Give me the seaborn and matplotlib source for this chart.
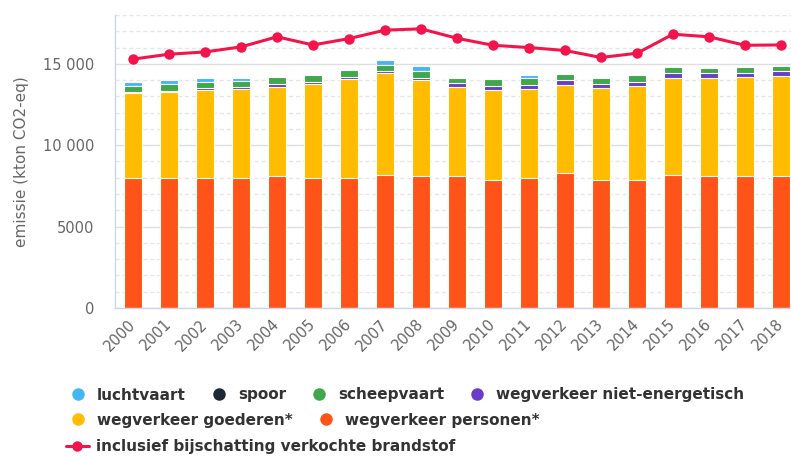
import numpy as np
import seaborn as sns
import matplotlib.pyplot as plt
from matplotlib.lines import Line2D
from matplotlib.ticker import FuncFormatter, MultipleLocator

years = [str(y) for y in range(2000, 2019)]

# kton CO2-eq per category
personen = [8000, 8000, 8000, 8000, 8080, 8000, 8000, 8160, 8080, 8080,
            7870, 8000, 8265, 7870, 7870, 8160, 8080, 8080, 8080]
goederen = [5200, 5300, 5380, 5480, 5520, 5750, 6070, 6260, 5930, 5480,
            5510, 5460, 5435, 5630, 5770, 6000, 6080, 6100, 6200]
niet_energetisch = [50, 50, 150, 100, 150, 120, 150, 150, 150, 250,
                    250, 250, 300, 250, 250, 250, 250, 250, 250]
scheepvaart = [390, 400, 340, 370, 470, 450, 410, 370, 410, 350,
               420, 450, 380, 410, 430, 380, 320, 360, 360]
spoor = [0] * 19
luchtvaart = [250, 250, 250, 170, 0, 0, 0, 300, 290, 0,
              0, 160, 0, 0, 0, 0, 0, 0, 0]
inclusief = [15290, 15590, 15730, 16040, 16660, 16160, 16550, 17070, 17150, 16570,
             16140, 16000, 15820, 15390, 15650, 16820, 16660, 16140, 16160]

series_names = ["wegverkeer personen*", "wegverkeer goederen*", "wegverkeer niet-energetisch",
                "scheepvaart", "spoor", "luchtvaart"]
series_colors = ["#fe5319", "#ffbc00", "#6a3cc8", "#3fa84a", "#1c2833", "#45b6f2"]
line_name = "inclusief bijschatting verkochte brandstof"
line_color = "#f2154b"

sns.set_style("white")
plt.rcParams["font.family"] = ["DejaVu Sans"]

fig = plt.figure(figsize=(7.91, 4.57), dpi=100)
ax = fig.add_axes([115 / 791, 1 - 308 / 457, 684 / 791, 293 / 457])

stack = np.cumsum(np.array([personen, goederen, niet_energetisch,
                            scheepvaart, spoor, luchtvaart]), axis=0)
for i in reversed(range(len(series_names))):
    sns.barplot(x=years, y=stack[i], color=series_colors[i], saturation=1,
                width=0.48, edgecolor="white", linewidth=0.8, errorbar=None,
                ax=ax, zorder=2)

sns.pointplot(x=years, y=inclusief, color=line_color, errorbar=None,
              markers="o", linewidth=2.2, markersize=7.5, markeredgewidth=0,
              ax=ax, zorder=3)

ax.set_xlim(-0.5, 18.5)
ax.set_ylim(0, 18000)
ax.yaxis.set_major_locator(MultipleLocator(5000))
ax.yaxis.set_minor_locator(MultipleLocator(1000))
ax.yaxis.set_major_formatter(FuncFormatter(
    lambda v, p: f"{int(v):,}".replace(",", " ") if v >= 10000 else f"{int(v)}"))
ax.grid(axis="y", which="major", color="#dedede", lw=1)
ax.grid(axis="y", which="minor", color="#e6e6e6", lw=1, ls=(0, (3, 2)))
ax.grid(axis="x", which="both", visible=False)
ax.set_axisbelow(True)

ax.set_xticks(range(len(years)))
ax.set_xticklabels(years)
ax.set_xticks(np.arange(-0.5, 19, 1), minor=True)
ax.tick_params(axis="x", which="major", length=0, pad=10, labelsize=10.5, labelcolor="#666666")
ax.tick_params(axis="x", which="minor", length=8.5, width=1, color="#ccd6eb")
ax.tick_params(axis="y", which="both", length=0, pad=15, labelsize=10.5, labelcolor="#666666")
for lab in ax.get_xticklabels():
    lab.set_rotation(45)
    lab.set_ha("right")
    lab.set_va("center")
    lab.set_rotation_mode("anchor")

for s in ["top", "right"]:
    ax.spines[s].set_visible(False)
for s in ["left", "bottom"]:
    ax.spines[s].set_color("#ccd6eb")
    ax.spines[s].set_linewidth(1)

ax.set_xlabel("")
ax.set_ylabel("emissie (kton CO2-eq)", fontsize=11, color="#666666")
ax.yaxis.set_label_coords(-(115 - 29) / 684, 0.5)

# legend, three rows like the original
def dot(c):
    return Line2D([], [], marker="o", ls="", markersize=9, markerfacecolor=c,
                  markeredgewidth=0)

leg_font = {"family": "DejaVu Sans", "weight": "bold", "size": 11}
rows = [
    ([5, 4, 3, 2], 395),
    ([1, 0], 420),
]
for idx, ypix in rows:
    fig.legend(handles=[dot(series_colors[i]) for i in idx],
               labels=[series_names[i] for i in idx],
               loc="center left", bbox_to_anchor=(70.4 / 791, 1 - ypix / 457),
               ncol=len(idx), frameon=False, borderpad=0, borderaxespad=0,
               handlelength=1.0, handletextpad=0.75, columnspacing=1.65,
               prop=leg_font, labelcolor="#333333")

fig.legend(handles=[Line2D([], [], color=line_color, lw=2.2, marker="o", markersize=7.5,
                           markeredgewidth=0)],
           labels=[line_name], loc="center left", bbox_to_anchor=(66 / 791, 1 - 447 / 457),
           frameon=False, borderpad=0, borderaxespad=0, handlelength=1.5,
           handletextpad=0.45, prop=leg_font, labelcolor="#333333")

fig.savefig("out.png", dpi=100, facecolor="white")
